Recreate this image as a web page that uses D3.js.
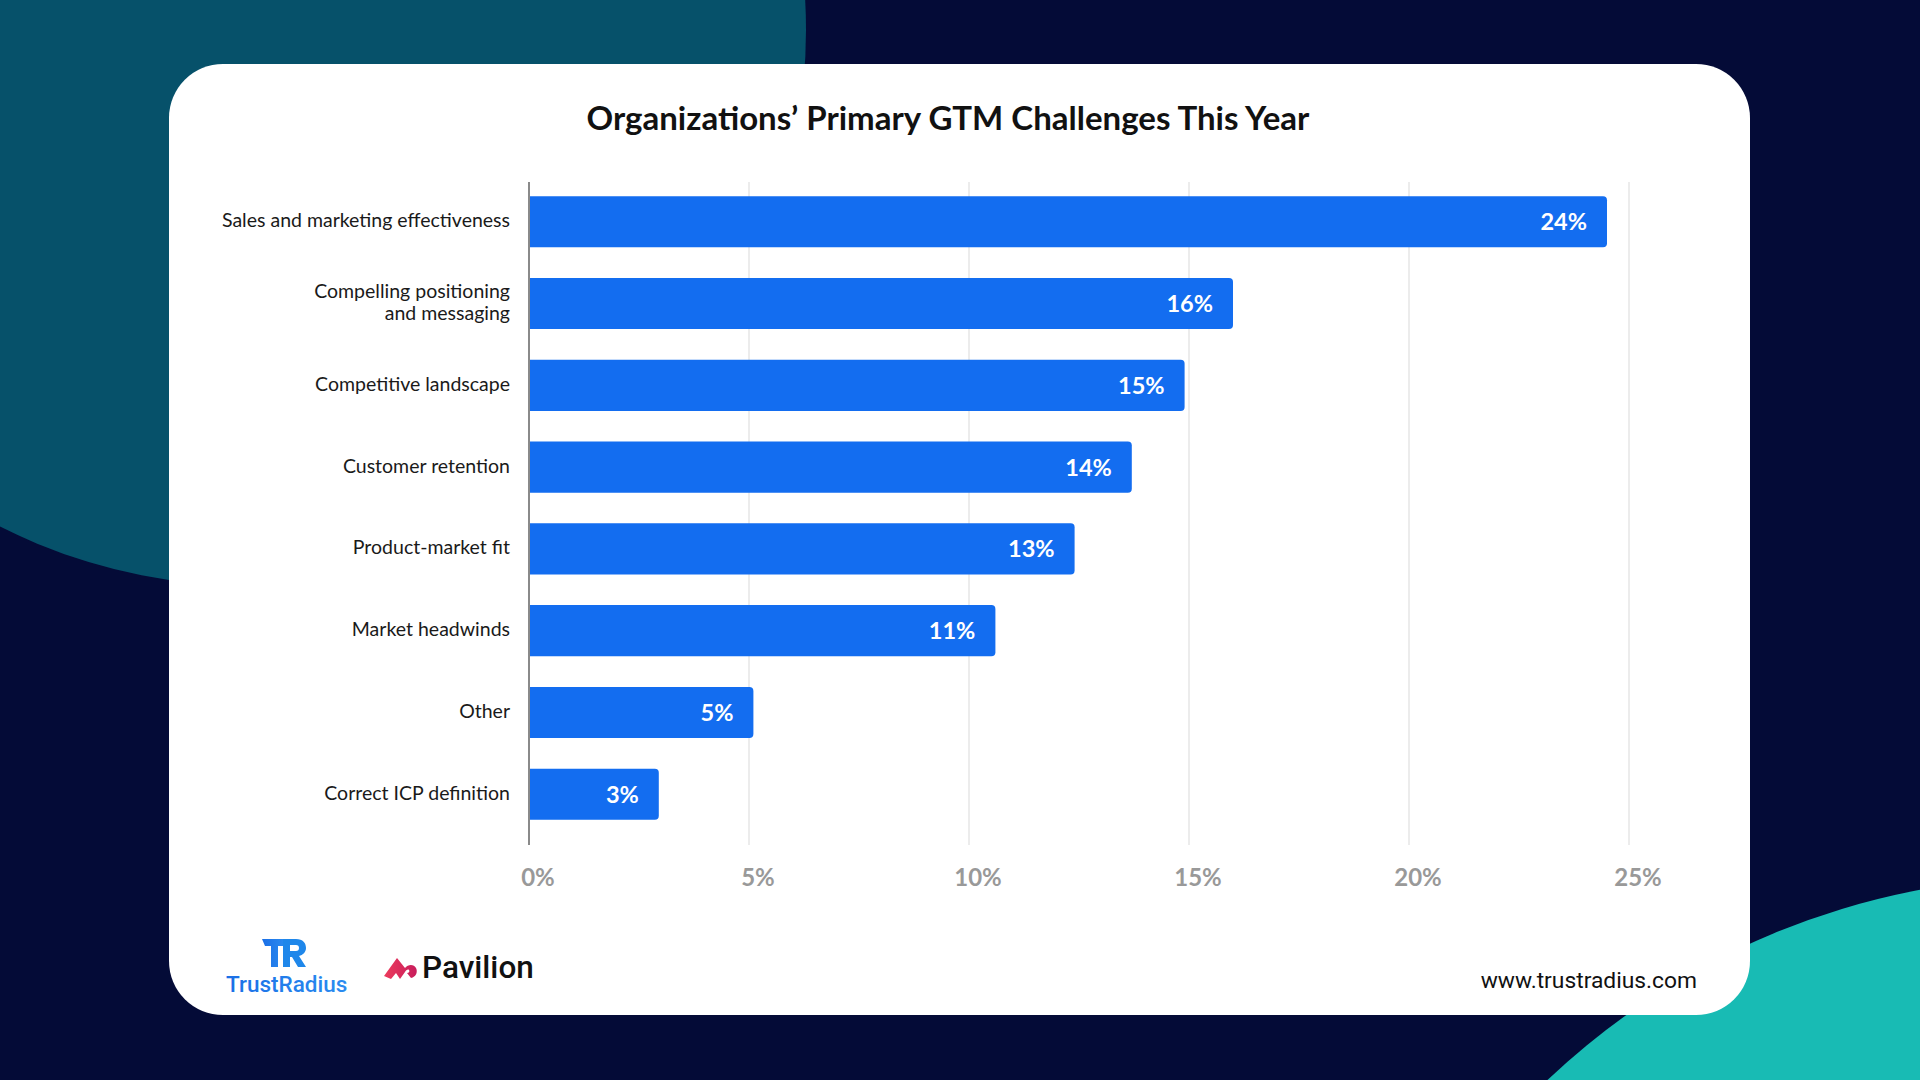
<!DOCTYPE html>
<html><head><meta charset="utf-8">
<script src="https://cdn.jsdelivr.net/npm/d3@7"></script>
<style>html,body{margin:0;padding:0;background:#040b37;overflow:hidden} svg{display:block}</style>
</head><body>
<svg id="c" width="1920" height="1080"></svg>
<script>
// ---- data ----
const categories = [
  "Sales and marketing effectiveness",
  "Compelling positioning\nand messaging",
  "Competitive landscape",
  "Customer retention",
  "Product-market fit",
  "Market headwinds",
  "Other",
  "Correct ICP definition"
];
const values = [24.5, 16.0, 14.9, 13.7, 12.4, 10.6, 5.1, 2.95];
const valueLabels = ["24%", "16%", "15%", "14%", "13%", "11%", "5%", "3%"];
const tickValues = [0, 5, 10, 15, 20, 25];
const tickLabels = ["0%", "5%", "10%", "15%", "20%", "25%"];
const title = "Organizations’ Primary GTM Challenges This Year";
const footerUrl = "www.trustradius.com";

// ---- drawing ----
const svg = d3.select("#c");
const W = 1920, H = 1080;
const FONT = "Lato, 'Noto Sans', sans-serif";

// background
svg.append("rect").attr("width", W).attr("height", H).attr("fill", "#040b37");
svg.append("circle").attr("cx", 250).attr("cy", 30).attr("r", 556).attr("fill", "#06516a");
svg.append("circle").attr("cx", 2057).attr("cy", 1618).attr("r", 741).attr("fill", "#18bbb4");

// card
svg.append("rect").attr("x", 169).attr("y", 64).attr("width", 1581).attr("height", 951)
  .attr("rx", 54).attr("ry", 54).attr("fill", "#ffffff");

// title
svg.append("text").attr("x", 948).attr("y", 130).attr("text-anchor", "middle")
  .attr("font-family", FONT).attr("font-weight", 700).attr("font-size", 33)
  .attr("fill", "#111111").text(title);

// scales
const x = d3.scaleLinear().domain([0, 25]).range([529, 1629]);
const y = d3.scaleBand().domain(categories).range([180, 836]).paddingInner(0.376).paddingOuter(0.2);
const plotTop = 182, plotBottom = 845;

const g = svg.append("g");

// gridlines
g.selectAll("line.grid").data(tickValues.filter(v => v > 0)).join("line")
  .attr("class", "grid")
  .attr("x1", d => x(d)).attr("x2", d => x(d))
  .attr("y1", plotTop).attr("y2", plotBottom)
  .attr("stroke", "#e6e6e6").attr("stroke-width", 1.5);

// bars with rounded right corners
function barPath(x0, y0, w, h, r) {
  r = Math.min(r, w / 2, h / 2);
  return `M${x0},${y0}H${x0 + w - r}Q${x0 + w},${y0} ${x0 + w},${y0 + r}V${y0 + h - r}Q${x0 + w},${y0 + h} ${x0 + w - r},${y0 + h}H${x0}Z`;
}
g.selectAll("path.bar").data(categories).join("path")
  .attr("class", "bar")
  .attr("d", (c, i) => barPath(x(0), y(c), x(values[i]) - x(0), y.bandwidth(), 4))
  .attr("fill", "#136df0");

// axis line
g.append("line").attr("x1", x(0)).attr("x2", x(0)).attr("y1", plotTop).attr("y2", plotBottom)
  .attr("stroke", "#8a8a8a").attr("stroke-width", 2);

// value labels
g.selectAll("text.val").data(categories).join("text")
  .attr("class", "val")
  .attr("x", (c, i) => x(values[i]) - 20)
  .attr("y", c => y(c) + y.bandwidth() / 2 + 8.5)
  .attr("text-anchor", "end")
  .attr("font-family", FONT).attr("font-weight", 700).attr("font-size", 23.5)
  .attr("fill", "#ffffff")
  .text((c, i) => valueLabels[i]);

// category labels
g.selectAll("text.cat").data(categories).join("text")
  .attr("class", "cat")
  .attr("text-anchor", "end")
  .attr("font-family", FONT).attr("font-size", 19.5)
  .attr("fill", "#1a1a1a")
  .each(function (c) {
    const lines = c.split("\n");
    const cy = y(c) + y.bandwidth() / 2;
    const t = d3.select(this);
    const lh = 21.7;
    const base = cy + 5.5 - (lines.length - 1) * lh / 2;
    lines.forEach((ln, k) => {
      t.append("tspan").attr("x", x(0) - 19).attr("y", base + k * lh).text(ln);
    });
  });

// x tick labels
g.selectAll("text.tick").data(tickValues).join("text")
  .attr("class", "tick")
  .attr("x", d => x(d) + 9)
  .attr("y", 886)
  .attr("text-anchor", "middle")
  .attr("font-family", FONT).attr("font-weight", 700).attr("font-size", 24)
  .attr("fill", "#999999")
  .text((d, i) => tickLabels[i]);

// footer: TrustRadius logo
const defs = svg.append("defs");
const gr = defs.append("linearGradient").attr("id", "trg").attr("x1", 0).attr("y1", 0).attr("x2", 1).attr("y2", 0);
gr.append("stop").attr("offset", 0).attr("stop-color", "#1a6fe6");
gr.append("stop").attr("offset", 1).attr("stop-color", "#2b8cf0");
const logo = svg.append("g");
// T
logo.append("path").attr("d", "M262,939 H286 L283,946 H278 V967 H271 V946 H265 Z").attr("fill", "url(#trg)");
// R
logo.append("path")
  .attr("d", "M283,939 H296 C303,939 306,943 306,948 C306,952 303,955 299,956 L306,967 H298 L292,957 H290 V967 H283 Z M290,945 V951 H296 C298,951 299,950 299,948 C299,946 298,945 296,945 Z")
  .attr("fill", "#1f87ea").attr("fill-rule", "evenodd");
logo.append("text").attr("x", 226).attr("y", 991.5)
  .attr("font-family", "Roboto, sans-serif").attr("font-weight", 500).attr("font-size", 22.5)
  .attr("fill", "url(#trg)").text("TrustRadius");

// Pavilion logo
const pg = defs.append("linearGradient").attr("id", "pvg").attr("x1", 0).attr("y1", 0).attr("x2", 1).attr("y2", 0);
pg.append("stop").attr("offset", 0).attr("stop-color", "#ec3b5c");
pg.append("stop").attr("offset", 1).attr("stop-color", "#c81d5c");
svg.append("path")
  .attr("d", "M384,976 L397,958 L405,968 C408,964 414,964 416,968 C418,972 416,977 411,978 L407,973 C409,973 410,971 409,970 C408,969 406,970 405,972 L400,979 L396,973 L391,979 Z")
  .attr("fill", "url(#pvg)");
svg.append("text").attr("x", 422).attr("y", 978)
  .attr("font-family", "Roboto, sans-serif").attr("font-weight", 500).attr("font-size", 31.5)
  .attr("fill", "#111111").text("Pavilion");

// url
svg.append("text").attr("x", 1697).attr("y", 988).attr("text-anchor", "end")
  .attr("font-family", "Roboto, sans-serif").attr("font-size", 22.8)
  .attr("fill", "#111111").text(footerUrl);
</script>
</body></html>
